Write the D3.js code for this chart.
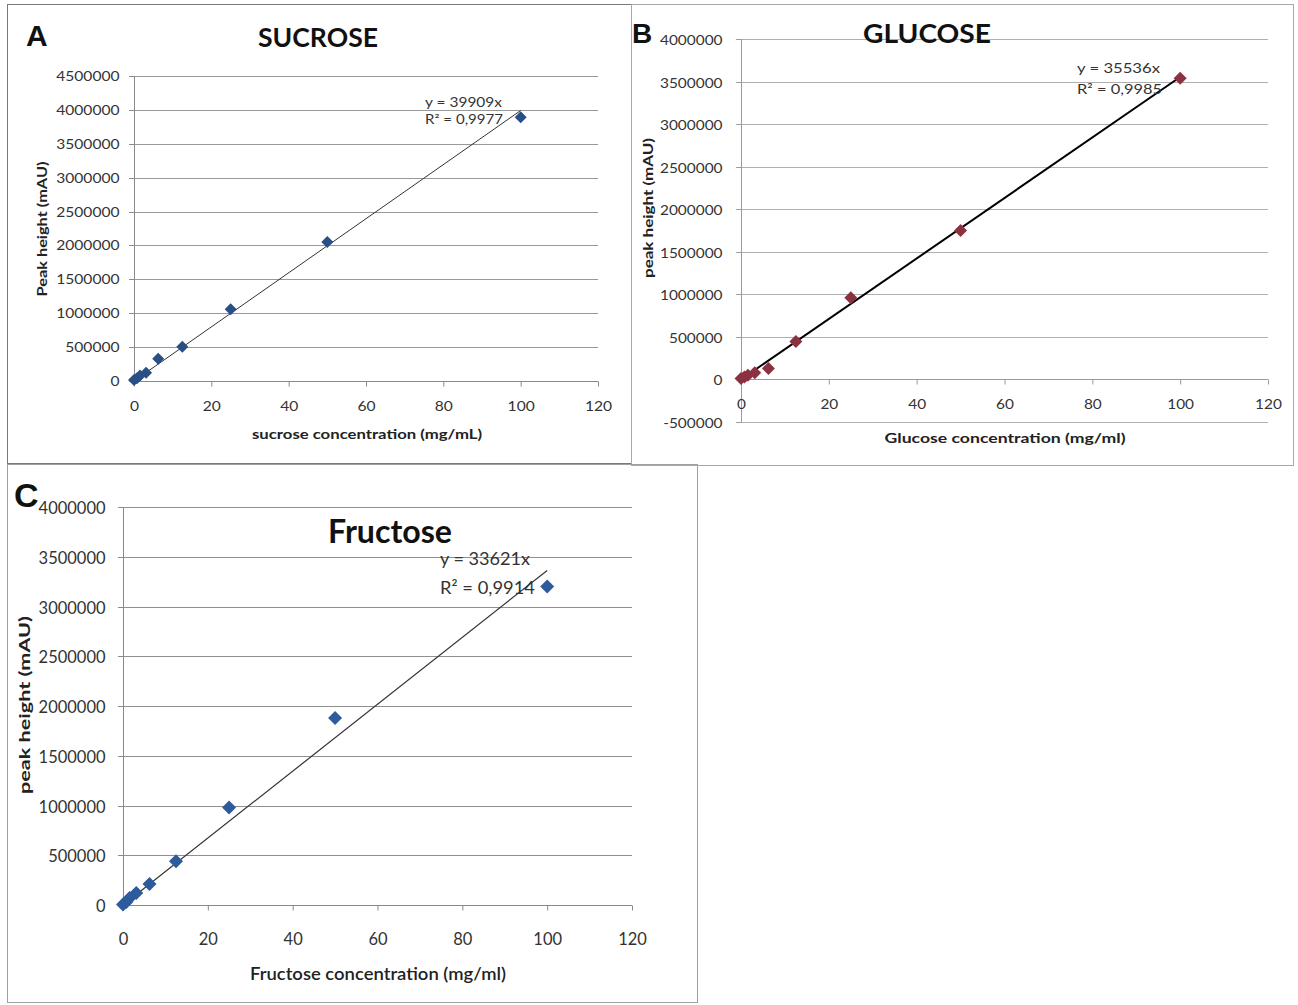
<!DOCTYPE html>
<html>
<head>
<meta charset="utf-8">
<script src="https://cdn.jsdelivr.net/npm/d3@7"></script>
<style>
  html, body { margin: 0; padding: 0; background: #ffffff; }
  svg { display: block; }
  text { font-family: Lato, "Open Sans", sans-serif; fill: #222; }
</style>
</head>
<body>
<svg id="fig" width="1298" height="1005"></svg>
<script>
// Calibration series: concentration (mg/mL) and measured peak height (mAU)
const concentrations = [0, 0.78, 1.56, 3.125, 6.25, 12.5, 25, 50, 100];

const sucroseHeight  = [15000, 40000, 80000, 120000, 330000, 505000, 1060000, 2050000, 3890000];
const glucoseHeight  = [10000, 30000, 50000, 80000, 130000, 445000, 960000, 1750000, 3540000];
const fructoseHeight = [5000, 30000, 70000, 120000, 210000, 440000, 980000, 1880000, 3200000];

// Linear fits through the origin (y = slope * x) and their R²
const sucroseSlope = 39909,  sucroseR2 = "0,9977";
const glucoseSlope = 35536,  glucoseR2 = "0,9985";
const fructoseSlope = 33621, fructoseR2 = "0,9914";

// Axis ticks
const xTicks = [0, 20, 40, 60, 80, 100, 120];
const sucroseYTicks  = [0, 500000, 1000000, 1500000, 2000000, 2500000, 3000000, 3500000, 4000000, 4500000];
const glucoseYTicks  = [-500000, 0, 500000, 1000000, 1500000, 2000000, 2500000, 3000000, 3500000, 4000000];
const fructoseYTicks = [0, 500000, 1000000, 1500000, 2000000, 2500000, 3000000, 3500000, 4000000];

const svg = d3.select("#fig");

function addText(g, str, x, y, o) {
  const t = g.append("text")
    .attr("x", x).attr("y", y)
    .attr("font-size", o.size)
    .attr("font-weight", o.weight || "normal")
    .attr("text-anchor", o.anchor || "start")
    .text(str);
  if (o.family) t.style("font-family", o.family);
  if (o.width) t.attr("textLength", o.width).attr("lengthAdjust", "spacingAndGlyphs");
  if (o.rotate) t.attr("transform", `rotate(${o.rotate},${x},${y})`);
  if (o.fill) t.style("fill", o.fill);
  return t;
}

function diamond(h) {
  return `M0,${-h}L${h},0L0,${h}L${-h},0Z`;
}

function drawPanel(p) {
  const g = svg.append("g");

  // panel frame
  g.append("rect")
    .attr("x", p.frame[0]).attr("y", p.frame[1])
    .attr("width", p.frame[2]).attr("height", p.frame[3])
    .attr("fill", "none").attr("stroke", p.frameColor).attr("stroke-width", 1);

  const x = d3.scaleLinear().domain([0, 120]).range([p.left, p.right]);
  const y = d3.scaleLinear().domain(p.yDomain).range([p.bottom, p.top]);

  // horizontal gridlines
  g.append("g").selectAll("line").data(p.yTicks).join("line")
    .attr("x1", p.left - 5).attr("x2", p.right)
    .attr("y1", d => Math.round(y(d)) + 0.5).attr("y2", d => Math.round(y(d)) + 0.5)
    .attr("stroke", p.gridColor).attr("stroke-width", 1);

  // y axis
  const yAxis = g.append("g")
    .attr("transform", `translate(${Math.round(p.left) + 0.5},0)`)
    .call(d3.axisLeft(y).tickValues(p.yTicks).tickSize(5).tickFormat(d => String(d)));
  yAxis.select(".domain").attr("stroke", p.axisColor).attr("d", `M0,${p.top}V${p.bottom}`);
  yAxis.selectAll(".tick line").attr("stroke", p.axisColor);
  yAxis.selectAll(".tick").attr("transform", d => `translate(0,${Math.round(y(d)) + 0.5})`);
  yAxis.selectAll(".tick text")
    .attr("font-size", p.tickSize)
    .style("font-family", "Lato, sans-serif")
    .style("fill", "#333")
    .attr("x", -p.yGap / p.sx)
    .attr("dy", "0.36em")
    .attr("transform", `scale(${p.sx},1)`);

  // x axis, placed at y = 0
  const x0 = Math.round(y(0)) + 0.5;
  const xAxis = g.append("g")
    .attr("transform", `translate(0,${x0})`)
    .call(d3.axisBottom(x).tickValues(xTicks).tickSize(5).tickFormat(d => String(d)));
  xAxis.select(".domain").attr("stroke", p.axisColor).attr("d", `M${p.left},0H${p.right}`);
  xAxis.selectAll(".tick line").attr("stroke", p.axisColor);
  xAxis.selectAll(".tick text")
    .attr("font-size", p.tickSize)
    .style("font-family", "Lato, sans-serif")
    .style("fill", "#333")
    .attr("y", p.xGap)
    .attr("dy", "0.36em")
    .attr("transform", `scale(${p.sx},1)`);

  // fitted line y = slope * x over the measured range
  const ext = d3.extent(p.conc);
  g.append("line")
    .attr("x1", x(ext[0])).attr("y1", y(p.slope * ext[0]))
    .attr("x2", x(ext[1])).attr("y2", y(p.slope * ext[1]))
    .attr("stroke", p.lineColor).attr("stroke-width", p.lineWidth);

  // measured points
  g.append("g").selectAll("path").data(p.conc.map((c, i) => [c, p.values[i]])).join("path")
    .attr("transform", d => `translate(${x(d[0])},${y(d[1])})`)
    .attr("d", diamond(p.marker))
    .attr("fill", p.markerColor);

  // trendline equation
  addText(g, `y = ${p.slope}x`, p.eq[0], p.eq[1], { size: p.eqSize, width: p.eqW[0], fill: "#333" });
  addText(g, `R² = ${p.r2}`, p.eq[0], p.eq[2], { size: p.eqSize, width: p.eqW[1], fill: "#333" });

  // titles and labels
  addText(g, p.title, p.titlePos[0], p.titlePos[1], { size: p.titleSize, weight: "bold", width: p.titleW, fill: "#111" });
  addText(g, p.letter, p.letterPos[0], p.letterPos[1],
    { size: p.letterSize, weight: "bold", family: "'Liberation Sans', Arial, sans-serif", fill: "#111" });
  addText(g, p.xLabel, p.xLabelPos[0], p.xLabelPos[1],
    { size: p.xLabelSize, weight: p.xLabelWeight, anchor: "middle", width: p.xLabelW, fill: "#222" });
  addText(g, p.yLabel, p.yLabelPos[0], p.yLabelPos[1],
    { size: p.yLabelSize, weight: "bold", anchor: "middle", width: p.yLabelW, rotate: -90, fill: "#222" });
}

// A: sucrose
drawPanel({
  frame: [7.5, 4.5, 624, 459], frameColor: "#7a7a7a",
  left: 134, right: 598, top: 76, bottom: 381,
  yDomain: [0, 4500000], yTicks: sucroseYTicks,
  gridColor: "#999999", axisColor: "#8a8a8a",
  tickSize: 13, sx: 1.2, yGap: 15, xGap: 25,
  conc: concentrations, values: sucroseHeight, slope: sucroseSlope, r2: sucroseR2,
  lineColor: "#333", lineWidth: 1, marker: 6, markerColor: "#2a4f86",
  eq: [425, 107, 124], eqSize: 12.5, eqW: [77, 78],
  title: "SUCROSE", titlePos: [258, 47], titleSize: 27, titleW: 120,
  letter: "A", letterPos: [26, 46], letterSize: 30,
  xLabel: "sucrose concentration (mg/mL)", xLabelPos: [367, 439], xLabelSize: 12.5, xLabelWeight: "bold", xLabelW: 230,
  yLabel: "Peak height (mAU)", yLabelPos: [47, 229], yLabelSize: 12.5, yLabelW: 135
});

// B: glucose
drawPanel({
  frame: [631.5, 4.5, 662, 461], frameColor: "#a8a8a8",
  left: 741, right: 1268, top: 39, bottom: 422,
  yDomain: [-500000, 4000000], yTicks: glucoseYTicks,
  gridColor: "#b0b0b0", axisColor: "#9a9a9a",
  tickSize: 14, sx: 1.1, yGap: 19, xGap: 24,
  conc: concentrations, values: glucoseHeight, slope: glucoseSlope, r2: glucoseR2,
  lineColor: "#000", lineWidth: 2, marker: 6.5, markerColor: "#8a3242",
  eq: [1077, 73, 94], eqSize: 14, eqW: [83, 85],
  title: "GLUCOSE", titlePos: [863, 43], titleSize: 26, titleW: 128,
  letter: "B", letterPos: [632, 43], letterSize: 28,
  xLabel: "Glucose concentration (mg/ml)", xLabelPos: [1005, 443], xLabelSize: 13, xLabelWeight: "bold", xLabelW: 241,
  yLabel: "peak height (mAU)", yLabelPos: [653, 208], yLabelSize: 13, yLabelW: 140
});

// C: fructose
drawPanel({
  frame: [7.5, 464.5, 690, 538], frameColor: "#a0a0a0",
  left: 123, right: 632, top: 507, bottom: 905,
  yDomain: [0, 4000000], yTicks: fructoseYTicks,
  gridColor: "#909090", axisColor: "#8a8a8a",
  tickSize: 17, sx: 0.97, yGap: 18, xGap: 33,
  conc: concentrations, values: fructoseHeight, slope: fructoseSlope, r2: fructoseR2,
  lineColor: "#333", lineWidth: 1.2, marker: 7, markerColor: "#2e5b9b",
  eq: [440, 565, 594], eqSize: 18, eqW: [90, 95],
  title: "Fructose", titlePos: [328, 543], titleSize: 33, titleW: 124,
  letter: "C", letterPos: [14, 507], letterSize: 34,
  xLabel: "Fructose concentration (mg/ml)", xLabelPos: [378, 980], xLabelSize: 18, xLabelWeight: "600", xLabelW: 256,
  yLabel: "peak height (mAU)", yLabelPos: [30, 705], yLabelSize: 16, yLabelW: 178
});
</script>
</body>
</html>
